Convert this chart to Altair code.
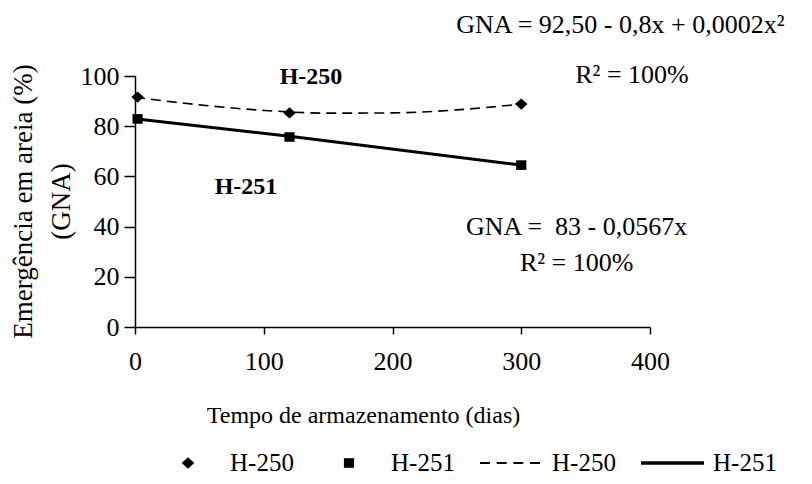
import altair as alt
import pandas as pd

# ---- data ----
pt_days = [2, 120, 300]
h250_pts = [91.6, 85.3, 88.8]
h251_pts = [82.9, 75.7, 64.5]

curve_days = [0, 50, 100, 150, 200, 250, 300]
h250_curve = [91.5, 88.5, 86.3, 85.2, 85.3, 86.5, 88.8]

line_days = [0, 120, 300]
h251_line = [83.0, 76.0, 64.5]

legend_keys = ["p250", "p251", "l250", "l251"]
legend_names = ["H-250", "H-251", "H-250", "H-251"]

notes_text = ["GNA = 92,50 - 0,8x + 0,0002x²", "R² = 100%", "GNA =\u00a0 83 - 0,0567x", "R² = 100%"]
notes_x = [377, 386, 343, 343]
notes_y = [120.3, 100.4, 39.8, 25.5]

labels_text = ["H-250", "H-251"]
labels_x = [136.7, 86.2]
labels_y = [99.6, 55.8]

FONT = "Liberation Serif"

pts = pd.DataFrame({
    "x": pt_days * 2,
    "y": h250_pts + h251_pts,
    "key": ["p250"] * 3 + ["p251"] * 3,
})
curve = pd.DataFrame({"x": curve_days, "y": h250_curve})
lin = pd.DataFrame({"x": line_days, "y": h251_line})
notes = pd.DataFrame({"x": notes_x, "y": notes_y, "t": notes_text})
labs = pd.DataFrame({"x": labels_x, "y": labels_y, "t": labels_text})

# symbol shapes (unit paths, scaled by the symbol size)
diamond = "M0,-0.19L0.21,0L0,0.19L-0.21,0Z"
square = "M-0.17,-0.16H0.17V0.16H-0.17Z"
h = 0.035
dashed = "".join(
    f"M{a},{-h}H{b}V{h}H{a}Z"
    for a, b in [(-1, -0.667), (-0.444, -0.111), (0.111, 0.444), (0.667, 1.0)]
)
solid = "M-1,-0.055H1.1V0.055H-1Z"
SYM = 3600

xscale = alt.Scale(domain=[0, 400], nice=False, zero=False)
yscale = alt.Scale(domain=[0, 100], nice=False)

xaxis = alt.Axis(
    values=[0, 100, 200, 300, 400], grid=False, tickSize=7, labelPadding=14,
    title="Tempo de armazenamento (dias)", titleX=228, titleY=88, titleBaseline="middle",
    titleFontSize=24, labelFlush=False,
)
yaxis = alt.Axis(
    values=[0, 20, 40, 60, 80, 100], grid=False, tickSize=11, labelPadding=5,
    title=["Emergência em areia (%)", "(GNA)"], titleX=-112, titleY=125,
    titleAngle=-90, titleBaseline="middle", titleAlign="center", titleLineHeight=38,
    titleFontSize=27,
)

X = alt.X("x:Q", scale=xscale, axis=xaxis)
Y = alt.Y("y:Q", scale=yscale, axis=yaxis)

dash_line = alt.Chart(curve).mark_line(
    color="black", strokeWidth=1.6, strokeDash=[10, 6], interpolate="monotone"
).encode(x=X, y=Y)

solid_line = alt.Chart(lin).mark_line(
    color="black", strokeWidth=3, interpolate="monotone"
).encode(x=alt.X("x:Q"), y=alt.Y("y:Q"))

label_expr = "datum.label == 'p250' || datum.label == 'l250' ? 'H-250' : 'H-251'"

points = alt.Chart(pts).mark_point(
    filled=True, size=SYM, color="black", strokeWidth=0, opacity=1
).encode(
    x=alt.X("x:Q"), y=alt.Y("y:Q"),
    shape=alt.Shape(
        "key:N",
        scale=alt.Scale(domain=legend_keys, range=[diamond, square, dashed, solid]),
        legend=alt.Legend(
            title=None, orient="none", direction="horizontal",
            legendX=23, legendY=357, labelExpr=label_expr,
            labelFont=FONT, labelFontSize=25, labelColor="black",
            labelOffset=12, columnPadding=25, symbolSize=SYM,
            symbolStrokeWidth=0, symbolFillColor="black", symbolStrokeColor="black",
            symbolOpacity=1,
        ),
    ),
)

note_marks = alt.Chart(notes).mark_text(
    font=FONT, fontSize=26, color="black", align="center", baseline="middle"
).encode(x=alt.X("x:Q"), y=alt.Y("y:Q"), text="t:N")

lab_marks = alt.Chart(labs).mark_text(
    font=FONT, fontSize=24, fontWeight="bold", color="black", align="center", baseline="middle"
).encode(x=alt.X("x:Q"), y=alt.Y("y:Q"), text="t:N")

chart = alt.layer(dash_line, solid_line, points, note_marks, lab_marks).properties(
    width=515, height=251,
    padding={"left": 127, "top": 68, "right": 154, "bottom": 149},
    autosize=alt.AutoSizeParams(type="none"),
    background="white",
).configure_view(stroke=None).configure_axis(
    domainColor="black", tickColor="black", labelColor="black", titleColor="black",
    labelFont=FONT, titleFont=FONT, labelFontSize=26, titleFontSize=24,
    titleFontWeight="normal", domainWidth=1.5, tickWidth=1.5,
)

chart.save("out.html", embed_options={"renderer": "svg", "actions": False})
